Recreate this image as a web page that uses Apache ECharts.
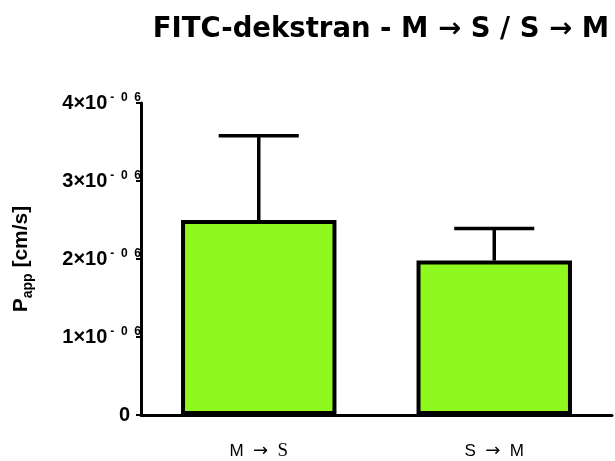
<!DOCTYPE html>
<html>
<head>
<meta charset="utf-8">
<script src="https://cdn.jsdelivr.net/npm/echarts@6/dist/echarts.min.js"></script>
<style>html,body{margin:0;padding:0;background:#fff}#c{width:615px;height:461px}</style>
</head>
<body>
<div id="c"></div>
<script>
var categories = ['M → S', 'S → M'];
var means = [2.5e-6, 1.98e-6];
var upperErrors = [3.58e-6, 2.39e-6];
var yTicks = [0, 1e-6, 2e-6, 3e-6, 4e-6];
var yTickMantissas = ['0', '1', '2', '3', '4'];
var yExponent = '-  0  6';

var chart = echarts.init(document.getElementById('c'));
var F = 'Liberation Sans, Arial, sans-serif';
var AR = 'DejaVu Sans, sans-serif';

function arrowRich(text, base, arrow) {
  return text.split('→').map(function (part) {
    return '{' + base + '|' + part + '}';
  }).join('{' + arrow + '|→}');
}

chart.setOption({
  animation: false,
  title: {
    text: arrowRich('FITC-dekstran - M → S / S → M', 't', 'ta'),
    right: 1, top: 11,
    textStyle: {
      rich: {
        t: {fontFamily: 'DejaVu Sans, sans-serif', fontWeight: 'bold', fontSize: 27.5, color: '#000'},
        ta: {fontFamily: AR, fontWeight: 'bold', fontSize: 27.5, color: '#000'}
      }
    }
  },
  grid: {left: 141, right: 3, top: 103, bottom: 46, outerBoundsMode: 'none', containLabel: false},
  xAxis: {
    type: 'category',
    data: categories,
    axisLine: {lineStyle: {color: '#000', width: 3}},
    axisTick: {alignWithLabel: true, length: 8, lineStyle: {color: '#000', width: 2}},
    axisLabel: {
      margin: 27,
      formatter: function (v) {
        if (v === 'M → S') return '{a|M  }{ar|→}{a|  }{sr|S}';
        return v.split('→').map(function (p) { return '{a|' + p.trim() + '}'; }).join('{a|  }{ar|→}{a|  }');
      },
      rich: {
        a: {fontFamily: F, fontSize: 17, color: '#000'},
        ar: {fontFamily: AR, fontSize: 18, color: '#000'},
        sr: {fontFamily: 'Liberation Serif, Times New Roman, serif', fontSize: 19, color: '#000'}
      }
    }
  },
  yAxis: {
    type: 'value',
    min: 0, max: 4e-6, interval: 1e-6,
    name: '{p|P}{sub|app}{p| [cm/s]}',
    nameLocation: 'middle',
    nameRotate: 90,
    nameGap: 106,
    nameTextStyle: {
      rich: {
        p: {fontFamily: F, fontWeight: 'bold', fontSize: 21, color: '#000'},
        sub: {fontFamily: F, fontWeight: 'bold', fontSize: 14, color: '#000', verticalAlign: 'bottom', padding: [14, 0, 0, 0]}
      }
    },
    splitLine: {show: false},
    axisLine: {show: true, lineStyle: {color: '#000', width: 3}},
    axisTick: {show: true, length: 5, lineStyle: {color: '#000', width: 2}},
    axisLabel: {
      margin: 0,
      formatter: function (v) {
        var idx = yTicks.findIndex(function (t) { return Math.abs(t - v) < 1e-12; });
        var m = idx >= 0 ? yTickMantissas[idx] : '';
        if (m === '0') return '{b|0}{g| }';
        return '{b|' + m + '×10}{s|' + yExponent + '}';
      },
      rich: {
        b: {fontFamily: F, fontWeight: 'bold', fontSize: 20, color: '#000', lineHeight: 22},
        g: {fontSize: 19, width: 11},
        s: {fontFamily: F, fontWeight: 'bold', fontSize: 12, color: '#000', verticalAlign: 'top', lineHeight: 12, padding: [0, 0, 0, 3]}
      }
    }
  },
  series: [
    {
      type: 'custom',
      z: 1,
      renderItem: function (params, api) {
        var x = api.value(0);
        var p0 = api.coord([x, api.value(1)]);
        var p1 = api.coord([x, api.value(2)]);
        var w = api.size([1, 0])[0] * 0.34;
        var st = {stroke: '#000', lineWidth: 3.5};
        return {
          type: 'group',
          children: [
            {type: 'line', shape: {x1: p0[0], y1: p0[1], x2: p1[0], y2: p1[1]}, style: st},
            {type: 'line', shape: {x1: p1[0] - w / 2, y1: p1[1], x2: p1[0] + w / 2, y2: p1[1]}, style: st}
          ]
        };
      },
      data: categories.map(function (c, i) { return [i, means[i], upperErrors[i]]; })
    },
    {
      type: 'bar',
      z: 2,
      data: means,
      barWidth: '66%',
      itemStyle: {color: '#8FF81E', borderColor: '#000', borderWidth: 4}
    }
  ]
});
</script>
</body>
</html>
